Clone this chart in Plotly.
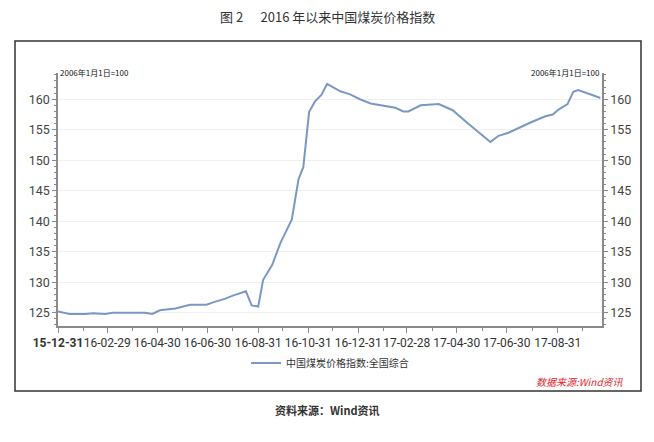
import plotly.graph_objects as go

# ---- data ----
dates = [
    "2015-12-31", "2016-01-14", "2016-02-02", "2016-02-12", "2016-02-26", "2016-03-07",
    "2016-03-28", "2016-04-15", "2016-04-24", "2016-05-03", "2016-05-22", "2016-06-09",
    "2016-06-29", "2016-07-07", "2016-07-22", "2016-07-31", "2016-08-16", "2016-08-23",
    "2016-08-31", "2016-09-06", "2016-09-17", "2016-09-27", "2016-10-11", "2016-10-19",
    "2016-10-25", "2016-11-01", "2016-11-08", "2016-11-16", "2016-11-23", "2016-12-09",
    "2016-12-21", "2017-01-02", "2017-01-15", "2017-02-04", "2017-02-14", "2017-02-24",
    "2017-03-02", "2017-03-17", "2017-04-08", "2017-04-25", "2017-05-13", "2017-06-10",
    "2017-06-20", "2017-07-02", "2017-07-13", "2017-07-31", "2017-08-16", "2017-08-25",
    "2017-09-01", "2017-09-12", "2017-09-19", "2017-09-25", "2017-10-12", "2017-10-22",
]
index_values = [
    125.2, 124.8, 124.8, 124.9, 124.8, 125.0,
    125.0, 125.0, 124.8, 125.4, 125.7, 126.3,
    126.3, 126.7, 127.3, 127.8, 128.5, 126.2,
    126.0, 130.4, 132.8, 136.4, 140.3, 146.8,
    148.9, 157.9, 159.6, 160.7, 162.5, 161.3,
    160.8, 160.0, 159.3, 158.8, 158.6, 158.0,
    158.0, 159.0, 159.2, 158.2, 156.1, 153.0,
    154.0, 154.5, 155.2, 156.3, 157.2, 157.5,
    158.3, 159.2, 161.2, 161.5, 160.7, 160.2,
]
series_name = "中国煤炭价格指数:全国综合"

x_tick_vals = ["2015-12-31", "2016-02-29", "2016-04-30", "2016-06-30", "2016-08-31",
               "2016-10-31", "2016-12-31", "2017-02-28", "2017-04-30", "2017-06-30",
               "2017-08-31"]
x_tick_text = ["<b>15-12-31</b>", "16-02-29", "16-04-30", "16-06-30", "16-08-31",
               "16-10-31", "16-12-31", "17-02-28", "17-04-30", "17-06-30", "17-08-31"]
x_minor_vals = ["2016-01-31", "2016-03-31", "2016-05-31", "2016-07-31", "2016-09-30",
                "2016-11-30", "2017-01-31", "2017-03-31", "2017-05-31", "2017-07-31",
                "2017-09-30"]
y_tick_vals = [125, 130, 135, 140, 145, 150, 155, 160]

title_text = "图 2&nbsp;&nbsp;&nbsp;&nbsp;&nbsp;&nbsp;2016 年以来中国煤炭价格指数"
base_note = "2006年1月1日=100"
source_red = "数据来源:Wind资讯"
source_caption = "资料来源：Wind资讯"

FONT = "Noto Sans CJK SC"
TICK_FONT = "Roboto"
LINE_COLOR = "#7b98c4"
AXIS_COLOR = "#8a8a8a"

fig = go.Figure()
fig.add_trace(go.Scatter(
    x=dates, y=index_values, mode="lines", name=series_name,
    line=dict(color=LINE_COLOR, width=2),
))
# invisible trace for the right axis
fig.add_trace(go.Scatter(
    x=dates, y=index_values, mode="lines", yaxis="y2", showlegend=False,
    line=dict(width=0), hoverinfo="skip", opacity=0,
))

# page body has an 8px default margin, so the figure is drawn 8px in
OFF = 8
W, H = 654 - OFF, 442 - OFF
L, T = 58 - OFF, 73 - OFF
R = W - (602 - OFF)
B = H - (326 - OFF)
pw, ph = W - L - R, H - T - B

def px(xp):
    return (xp - OFF - L) / pw

def py(yp):
    return (H - B - (yp - OFF)) / ph

yrange = [122.82, 164.3]

fig.update_layout(
    width=W, height=H,
    margin=dict(l=L, r=R, t=T, b=B, autoexpand=False),
    paper_bgcolor="white", plot_bgcolor="white",
    font=dict(family=FONT, color="#333333"),
    showlegend=True,
    legend=dict(orientation="h", x=0.5, xanchor="center", y=py(363), yanchor="middle",
                font=dict(size=10, color="#333333"), bgcolor="rgba(0,0,0,0)"),
    xaxis=dict(
        type="date", range=["2015-12-31", "2017-10-24"],
        tickmode="array", tickvals=x_tick_vals, ticktext=x_tick_text, tickangle=0,
        ticks="outside", ticklen=5, tickcolor=AXIS_COLOR, tickwidth=1,
        showline=True, linecolor=AXIS_COLOR, linewidth=1.5,
        showgrid=False, zeroline=False,
        tickfont=dict(size=12, color="#333333", family=TICK_FONT),
        minor=dict(tickmode="array", tickvals=x_minor_vals, ticks="outside",
                   ticklen=3, tickcolor=AXIS_COLOR, showgrid=False),
    ),
    yaxis=dict(
        range=yrange, tickmode="array", tickvals=y_tick_vals,
        ticks="outside", ticklen=4, tickcolor=AXIS_COLOR,
        showline=True, linecolor=AXIS_COLOR, linewidth=1.5,
        showgrid=True, gridcolor="#f0f0f0", gridwidth=1, zeroline=False,
        tickfont=dict(size=12.5, color="#444444", family=TICK_FONT),
        minor=dict(dtick=1, ticks="outside", ticklen=2, tickcolor=AXIS_COLOR, showgrid=False),
    ),
    yaxis2=dict(
        range=yrange, overlaying="y", side="right", tickmode="array", tickvals=y_tick_vals,
        ticks="outside", ticklen=4, tickcolor=AXIS_COLOR,
        showline=True, linecolor=AXIS_COLOR, linewidth=1.5,
        showgrid=False, zeroline=False,
        tickfont=dict(size=12.5, color="#444444", family=TICK_FONT),
        minor=dict(dtick=1, ticks="outside", ticklen=2, tickcolor=AXIS_COLOR, showgrid=False),
    ),
)

# outer frame around the chart panel
fig.add_shape(type="rect", xref="paper", yref="paper",
              x0=px(15), x1=px(641), y0=py(391), y1=py(41),
              line=dict(color="#333333", width=1.5), layer="below")

annos = [
    dict(text=title_text, x=px(327), y=py(17), xanchor="center", yanchor="middle",
         font=dict(size=13, color="#333333")),
    dict(text=base_note, x=px(58), y=py(72), xanchor="left", yanchor="middle",
         font=dict(size=8, color="#111111")),
    dict(text=base_note, x=px(602), y=py(72), xanchor="right", yanchor="middle",
         font=dict(size=8, color="#111111")),
    dict(text="<i>" + source_red + "</i>", x=px(626), y=py(381), xanchor="right",
         yanchor="middle", font=dict(size=10, color="#e0262b")),
    dict(text="<b>" + source_caption + "</b>", x=px(327), y=py(410), xanchor="center",
         yanchor="middle", font=dict(size=11, color="#333333")),
]
for a in annos:
    fig.add_annotation(xref="paper", yref="paper", showarrow=False, **a)

fig.write_html("out.html")
